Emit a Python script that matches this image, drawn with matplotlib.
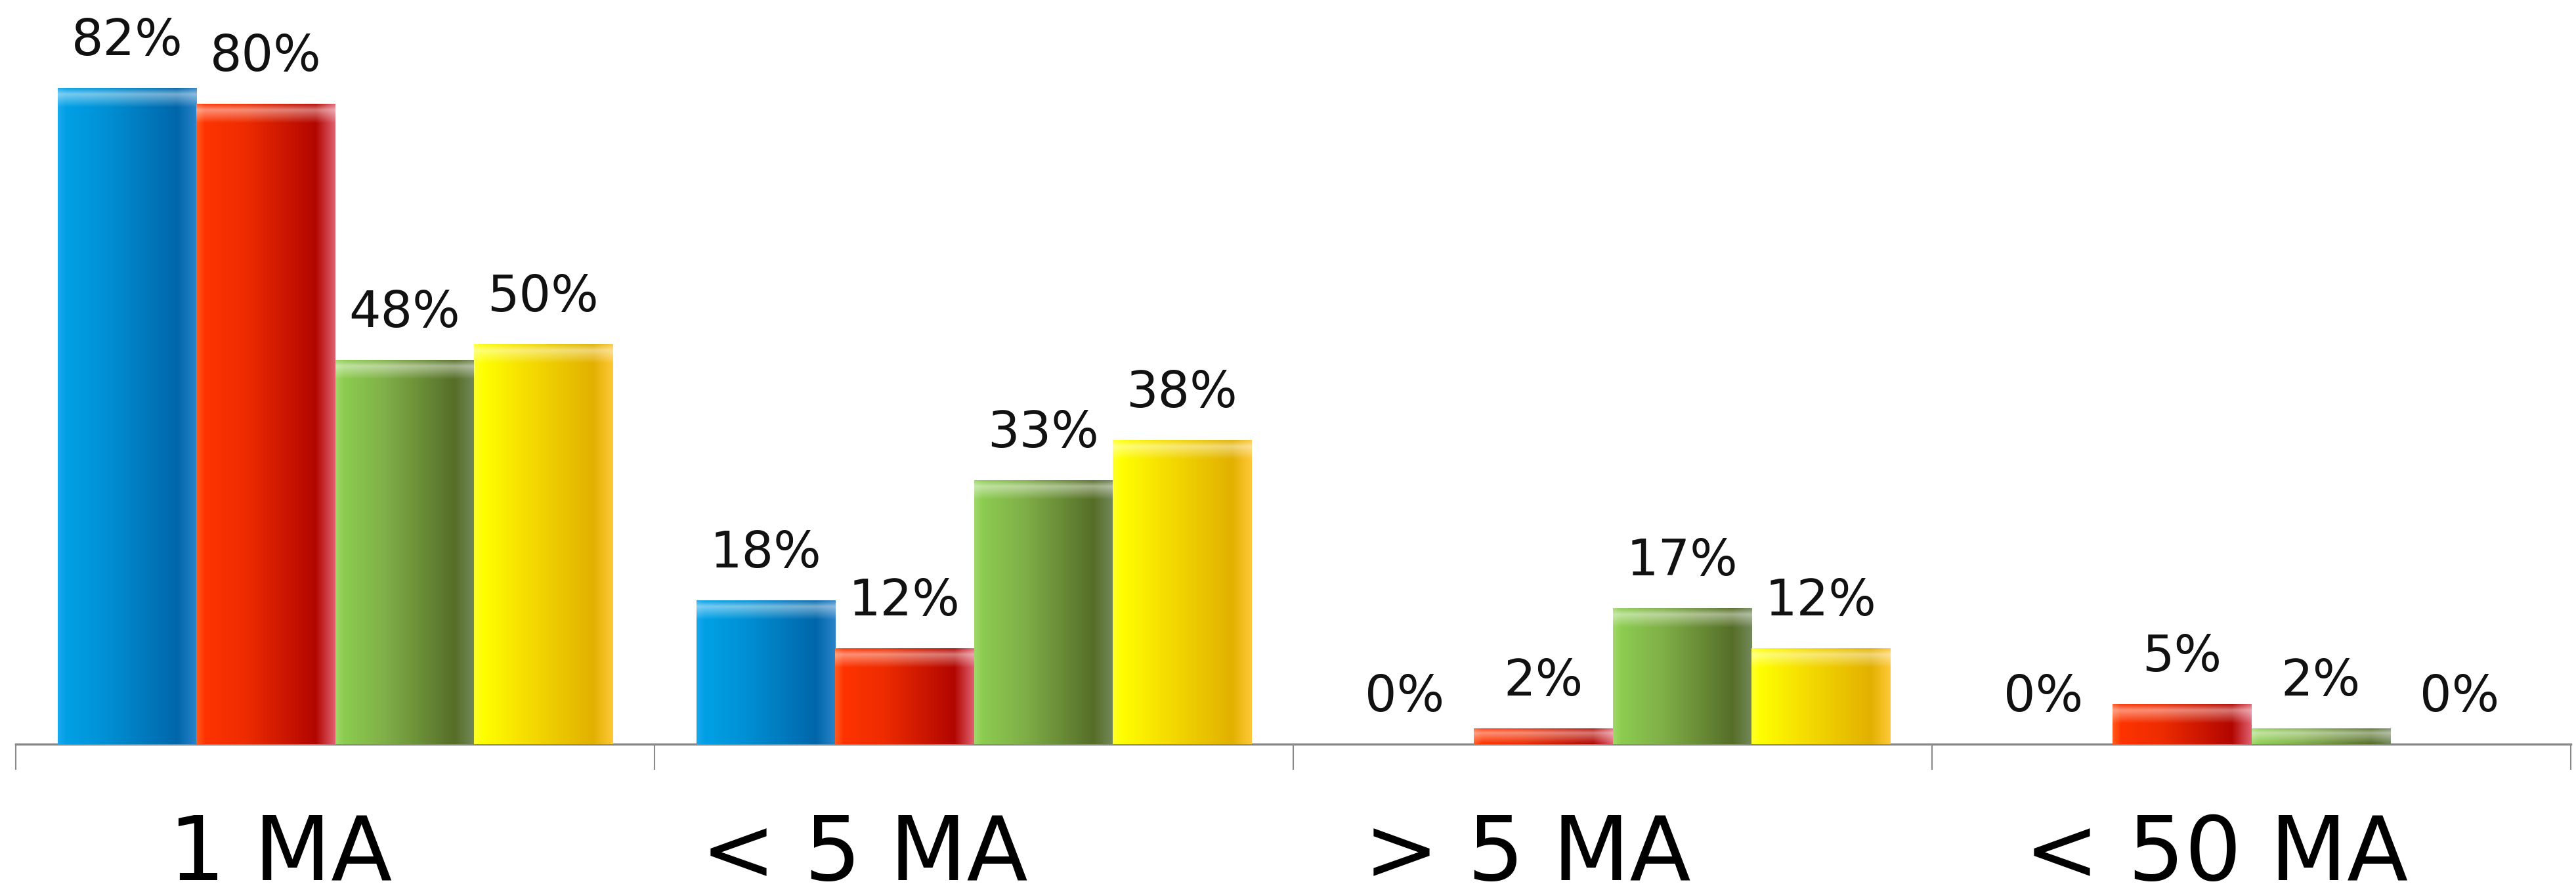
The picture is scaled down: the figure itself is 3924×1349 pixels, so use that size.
import numpy as np
import matplotlib
matplotlib.use("Agg")
import matplotlib.pyplot as plt
from matplotlib.colors import LinearSegmentedColormap
from matplotlib.transforms import ScaledTranslation, blended_transform_factory

# ---------------- data ----------------
categories = ["1 MA", "< 5 MA", "> 5 MA", "< 50 MA"]
series_blue = [82, 18, 0, 0]
series_red = [80, 12, 2, 5]
series_green = [48, 33, 17, 2]
series_yellow = [50, 38, 12, 0]

# ---------------- style ----------------
series = [series_blue, series_red, series_green, series_yellow]
gradients = [
    ["#1aa8ec", "#00a0e6", "#0090d4", "#0066aa", "#2a84c8"],
    ["#ff5a20", "#ff3300", "#ee2c00", "#b20600", "#e06070"],
    ["#a0d868", "#8ccc50", "#80b048", "#566e28", "#72885a"],
    ["#ffff30", "#ffff00", "#f6e000", "#e2b000", "#ffc838"],
]
stops = [0.0, 0.06, 0.35, 0.86, 1.0]
base_colors = ["#0090d4", "#ee2c00", "#80b048", "#f6e000"]

W, H, DPI = 3924, 1349, 100
fig = plt.figure(figsize=(W / DPI, H / DPI), dpi=DPI)
ax = fig.add_axes([24 / W, 1 - 1133 / H, (3916 - 24) / W, 1133 / H])

YMAX = 0.930
px_per_unit = 1133 / YMAX
bar_w = 0.217
x = np.arange(len(categories))
grad = np.linspace(0, 1, 256).reshape(1, -1)
vgrad = np.zeros((32, 1, 4))
vgrad[..., :3] = 1.0
vgrad[:, 0, 3] = np.concatenate([np.linspace(0.05, 0.45, 10),
                                 np.linspace(0.45, 0.0, 22)])

for i, vals in enumerate(series):
    cmap = LinearSegmentedColormap.from_list(
        f"g{i}", list(zip(stops, gradients[i])))
    pos = x + (i - 1.5) * bar_w
    bars = ax.bar(pos, np.array(vals) / 100.0, width=bar_w,
                  color=base_colors[i], edgecolor="none", zorder=2)
    for b, v in zip(bars, vals):
        x0, y0 = b.get_x(), b.get_y()
        bw, bh = b.get_width(), b.get_height()
        if v > 0:
            im = ax.imshow(grad, cmap=cmap, aspect="auto",
                           extent=(x0, x0 + bw, y0, y0 + bh),
                           interpolation="bicubic", zorder=3)
            im.set_clip_path(b)
            hh = min(30 / px_per_unit, bh)
            hl = ax.imshow(vgrad, aspect="auto",
                           extent=(x0, x0 + bw, y0 + bh - hh, y0 + bh),
                           interpolation="bicubic", zorder=4)
            hl.set_clip_path(b)
        ax.annotate(f"{v}%", xy=(x0 + bw / 2, bh),
                    xytext=(0, 36), textcoords="offset points",
                    ha="center", va="baseline", fontsize=55,
                    color="#111111", zorder=5)

ax.set_xlim(-0.5, len(categories) - 0.5)
ax.set_ylim(0, YMAX)

for s in ["top", "right", "left"]:
    ax.spines[s].set_visible(False)
ax.spines["bottom"].set_color("#8a8a8a")
ax.spines["bottom"].set_linewidth(2.5)
ax.spines["bottom"].set_zorder(1)
ax.set_yticks([])
ax.set_xticks(np.arange(len(categories) + 1) - 0.5)
ax.set_xticklabels([])
ax.tick_params(axis="x", direction="out", length=28, width=1.5,
               color="#8a8a8a")
ax.patch.set_alpha(0)

# category labels
label_dx = [-83, -167, -130, -53]  # px shift of each label
trans = blended_transform_factory(ax.transData, fig.transFigure)
for i, cat in enumerate(categories):
    t = trans + ScaledTranslation(label_dx[i] / DPI, 0, fig.dpi_scale_trans)
    fig.text(i, 1 - 1340 / H, cat, transform=t, ha="center",
             va="baseline", fontsize=98, color="#000000")

fig.savefig("out.png", dpi=DPI)
